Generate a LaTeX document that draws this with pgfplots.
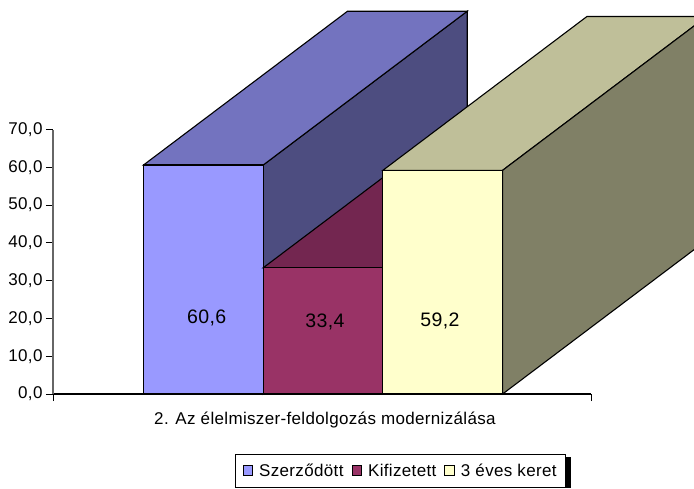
\documentclass[border=0pt]{standalone}
\usepackage{fontspec}
\setmainfont[LetterSpace=2]{Liberation Sans}
\usepackage{pgfplots}
\pgfplotsset{compat=1.18}
\definecolor{blueF}{HTML}{9999FF}
\definecolor{blueT}{HTML}{7373BF}
\definecolor{blueS}{HTML}{4D4D80}
\definecolor{redF}{HTML}{993366}
\definecolor{redT}{HTML}{732650}
\definecolor{yelF}{HTML}{FFFFCC}
\definecolor{yelT}{HTML}{BFBF99}
\definecolor{yelS}{HTML}{808066}
\newcommand{\lab}{\fontsize{17}{19}\selectfont}
\newcommand{\val}{\fontsize{19.5}{22}\selectfont}
\pgfplotsset{sq/.style={legend image code/.code={\draw[#1,line width=1.1pt] (0pt,-4.5pt) rectangle (9.5pt,5pt);}}}
\begin{document}
\begin{tikzpicture}[x=1pt,y=1pt]
% page is the reference frame, origin at the axis corner
\useasboundingbox (-53,-94) rectangle (641,394);
\clip (-53,-94) rectangle (641,394);
\fill[black] (513,-94) rectangle (518,-63);
\begin{axis}[
	at={(0,0)},anchor=south west,
	scale only axis,width=538pt,height=264.5pt,
	xmin=-0.5,xmax=0.5,ymin=0,ymax=70,
	clip=false,
	axis x line=bottom,axis y line=left,
	axis line style={-,line width=1.1pt},
	y axis line style={draw=black!60},
	xtick={-0.5,0.5},xticklabels={},
	extra x ticks={0},
	extra x tick labels={2. Az élelmiszer-feldolgozás modernizálása},
	extra x tick style={major tick length=0pt,tick label style={yshift=-14pt,xshift=3pt}},
	ytick={0,10,...,70},
	tick style={black,line width=0.8pt},
	major tick length=7pt,
	tick align=outside,
	ticklabel style={font=\lab},
	y tick label style={/pgf/number format/.cd,fixed,fixed zerofill,precision=1,use comma,assume math mode=true},
	legend style={at={(0.9535,-0.2268)},anchor=north east,legend columns=3,
		draw=black,line width=0.7pt,font=\lab,
		inner xsep=7pt,inner ysep=7.5pt,
		/tikz/every even column/.append style={column sep=6pt},
		/tikz/every odd column/.append style={column sep=4pt}},
	legend cell align=left,
]
% blue bar
\addplot[forget plot,fill=blueS,draw=black,line width=1.1pt] coordinates {(-0.1093,0) (-0.1093,60.6) (0.2699,101.3) (0.2699,40.7)} --cycle;
\addplot[forget plot,fill=blueT,draw=black,line width=1.1pt] coordinates {(-0.3318,60.6) (-0.1093,60.6) (0.2699,101.3) (0.0474,101.3)} --cycle;
\addplot[ybar,bar shift=0pt,bar width=0.2225,fill=blueF,draw=black,line width=1.1pt,sq] coordinates {(-0.2205,60.6)};
\addlegendentry{Szerződött}
% maroon bar
\addplot[forget plot,fill=redT,draw=black,line width=1.1pt] coordinates {(-0.1093,33.4) (0.1132,33.4) (0.4924,74.1) (0.2699,74.1)} --cycle;
\addplot[ybar,bar shift=0pt,bar width=0.2225,fill=redF,draw=black,line width=1.1pt,sq] coordinates {(0.0020,33.4)};
\addlegendentry{Kifizetett}
% yellow bar
\addplot[forget plot,fill=yelT,draw=black,line width=1.1pt] coordinates {(0.1132,59.2) (0.3357,59.2) (0.7149,99.9) (0.4924,99.9)} --cycle;
\addplot[forget plot,fill=yelS,draw=black,line width=1.1pt] coordinates {(0.3357,0) (0.3357,59.2) (0.7149,99.9) (0.7149,40.7)} --cycle;
\addplot[ybar,bar shift=0pt,bar width=0.2225,fill=yelF,draw=black,line width=1.1pt,sq] coordinates {(0.2245,59.2)};
\addlegendentry{3 éves keret}
\node[font=\val] at (axis cs:-0.2143,20.1) {60,6};
\node[font=\val] at (axis cs:0.0056,19.05) {33,4};
\node[font=\val] at (axis cs:0.2193,19.3) {59,2};
\end{axis}
\end{tikzpicture}
\end{document}
